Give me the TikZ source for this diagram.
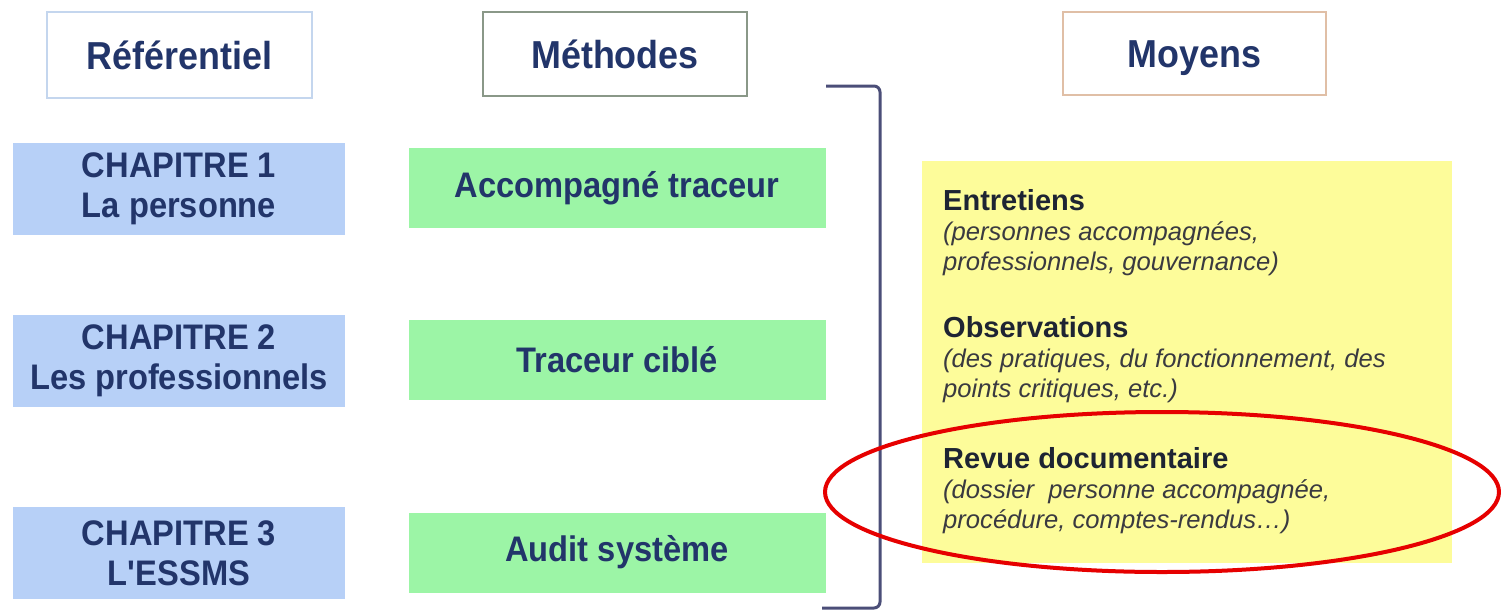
\documentclass[tikz,border=0pt]{standalone}
\usepackage{fontspec}
\setmainfont{Liberation Sans}
\newfontfamily\nar[FakeStretch=0.92]{Liberation Sans}
\usetikzlibrary{shapes.geometric}
\definecolor{navy}{HTML}{22356A}
\definecolor{bluefill}{HTML}{B7D0F7}
\definecolor{greenfill}{HTML}{9CF5A6}
\definecolor{yel}{HTML}{FDFC9A}
\definecolor{refb}{HTML}{C4D6EE}
\definecolor{methb}{HTML}{8A9888}
\definecolor{moyb}{HTML}{E0BFA6}
\definecolor{brk}{HTML}{4B4E78}
\definecolor{redc}{HTML}{E60000}
\definecolor{dtxt}{HTML}{1E2433}
\definecolor{itxt}{HTML}{3A3A40}
\tikzset{
  header/.style={draw, line width=2.5pt, fill=white, text=navy, font=\nar\bfseries\fontsize{39}{42}\selectfont, inner sep=0pt, text height=28pt, text depth=0pt},
  chap/.style={fill=bluefill, text=navy, align=center, minimum width=332pt, minimum height=92pt, inner sep=0pt, font=\nar\bfseries\fontsize{35.5}{40}\selectfont},
  meth/.style={fill=greenfill, text=navy, minimum width=417pt, minimum height=80pt, inner sep=0pt, font=\nar\bfseries\fontsize{35.5}{40}\selectfont},
  mhead/.style={anchor=base west, inner sep=0pt, text=dtxt, font=\bfseries\fontsize{29}{32}\selectfont},
  mtxt/.style={anchor=base west, inner sep=0pt, text=itxt, font=\itshape\fontsize{25.6}{30}\selectfont},
  bracket/.style={draw=brk, line width=3pt, rounded corners=6pt},
}
\begin{document}
\begin{tikzpicture}[x=1pt,y=-1pt]
\useasboundingbox (0,0) rectangle (1501,611);
\fill[white] (0,0) rectangle (1501,611);
% headers
\node[header, draw=refb, minimum width=265pt, minimum height=86pt] (ref) at (179.5,55) {Référentiel};
\node[header, draw=methb, minimum width=264pt, minimum height=84pt] (met) at (615,54) {Méthodes};
\node[header, draw=moyb, minimum width=263pt, minimum height=83pt] (moy) at (1194.5,53.5) {Moyens};
% chapters
\node[chap] (ch1) at (179,189) {CHAPITRE 1\\La personne};
\node[chap] (ch2) at (179,361) {CHAPITRE 2\\Les professionnels};
\node[chap] (ch3) at (179,553) {CHAPITRE 3\\L'ESSMS};
% methods
\node[meth] (m1) at (617,188) {Accompagné traceur};
\node[meth] (m2) at (617,360) {Traceur ciblé};
\node[meth] (m3) at (617,552.5) {Audit système};
% bracket
\coordinate (bt) at (826,86);
\coordinate (bc1) at (880,86);
\coordinate (bc2) at (880,608);
\coordinate (bb) at (822,608);
\draw[bracket] (bt) -- (bc1) -- (bc2) -- (bb);
% yellow box
\node[fill=yel, minimum width=530pt, minimum height=402pt, inner sep=0pt] (yb) at (1187,362) {};
\node[mhead] (e1) at (943,210) {Entretiens};
\node[mtxt] (e2) at (943,240) {(personnes accompagnées,};
\node[mtxt] (e3) at (943,270) {professionnels, gouvernance)};
\node[mhead] (o1) at (943,337) {Observations};
\node[mtxt] (o2) at (943,367) {(des pratiques, du fonctionnement, des};
\node[mtxt] (o3) at (943,397) {points critiques, etc.)};
\node[mhead] (r1) at (943,468) {Revue documentaire};
\node[mtxt] (r2) at (943,498) {(dossier\ \ personne accompagnée,};
\node[mtxt] (r3) at (943,528) {procédure, comptes-rendus…)};
% red ellipse
\draw[redc, line width=4pt] (1162,492) ellipse [x radius=337pt, y radius=80pt];
\end{tikzpicture}
\end{document}
